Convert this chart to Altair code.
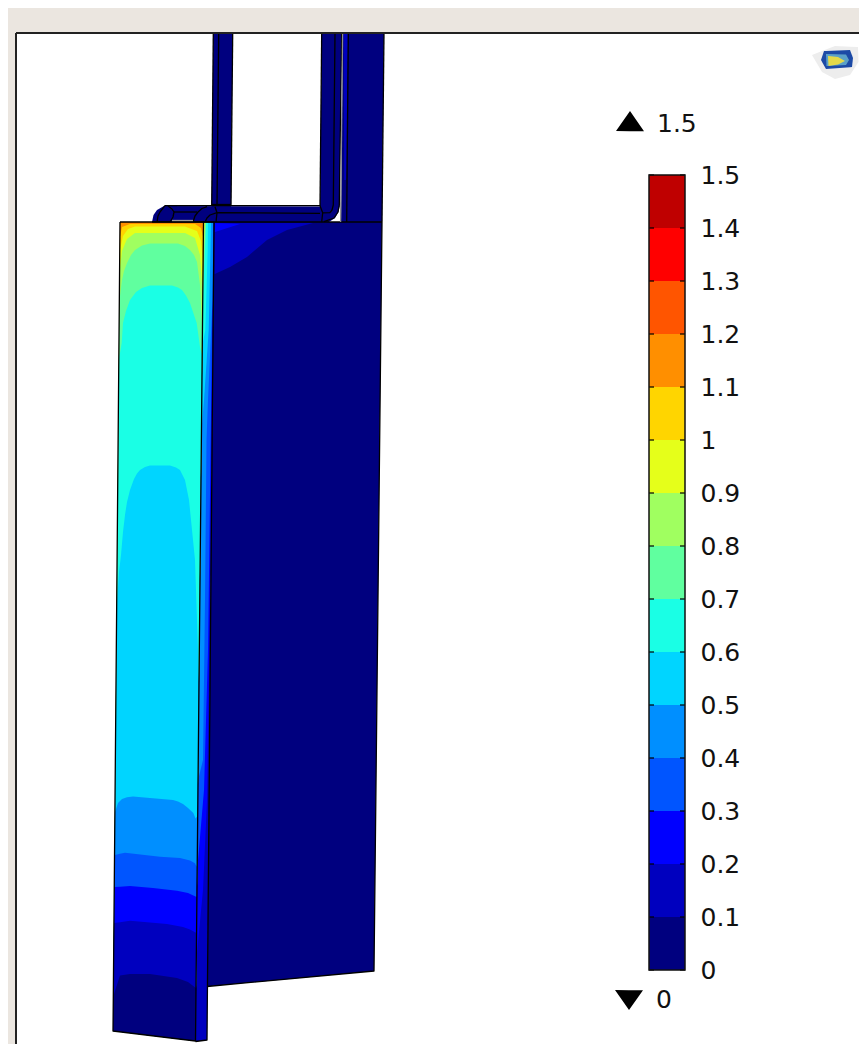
import numpy as np
import pandas as pd
import altair as alt

# Colour levels of the contour plot, lowest to highest
levels = [round(i * 0.1, 1) for i in range(16)]
jet = ["#00007f", "#0000bf", "#0000ff", "#0055ff", "#008fff", "#00d5ff", "#1affe5", "#60ff9f",
       "#a0ff60", "#e5ff1a", "#ffd500", "#ff8f00", "#ff5500", "#ff0000", "#bf0000"]

# Front face, outline in picture coordinates
face = [(120, 222), (203.5, 222), (195.5, 1041), (113, 1031)]
strip = [(203.5, 222), (214, 222), (207, 1040), (195.5, 1041.5)]
panel = [(214, 222), (382, 222), (374, 971), (207, 986.5)]

# Contour curves on the front face, hottest first
face_base = "#ff8f00"
face_curves = [
    ("#ffd500", [(120.3, 236), (122, 227), (130, 224), (195, 224), (201, 228), (203.3, 238)]),
    ("#e5ff1a", [(120, 250), (123, 236), (128, 229), (135, 226.5), (185, 226.5), (197, 231), (201, 241), (202.8, 262)]),
    ("#a0ff60", [(119.6, 272), (122, 251), (127, 239), (135, 233), (185, 233), (195, 238), (200, 255), (202.5, 292)]),
    ("#60ff9f", [(119.5, 300), (122, 280), (124, 271), (127, 263), (131, 255), (135, 250), (142, 245.5), (150, 243.5), (178, 243.5), (185, 246), (190, 250), (194, 255), (197, 262), (200, 285), (202.4, 340)]),
    ("#1affe5", [(119.3, 357), (121.7, 343), (123, 323), (126, 311), (130, 300), (136, 292), (142, 288), (150, 285.5), (172, 285.5), (178, 287.5), (182, 290), (186, 295.5), (190, 303), (196.7, 323), (200, 347), (202.2, 370)]),
    ("#00d5ff", [(117.2, 600), (119, 572), (121, 555), (123, 532), (125, 515), (127, 502), (130, 490), (134, 479), (137, 473.5), (140, 470), (145, 467), (150, 465.5), (170, 465.5), (176, 467.5), (180, 470), (185, 480), (189, 500), (192, 530), (195, 560), (197, 620), (199, 720)]),
    ("#008fff", [(115, 812), (118, 803), (122, 799), (127, 797.2), (133, 796.5), (150, 798), (173, 800), (178, 801.5), (183, 804), (188, 808), (193.3, 813), (197.7, 824)]),
    ("#0055ff", [(115, 855), (125, 852.7), (160, 856.7), (180, 858), (190, 860.5), (195, 863.3), (197.2, 869)]),
    ("#0000ff", [(114.5, 887), (130, 886), (153, 888), (177, 890.7), (188, 893), (196.8, 897)]),
    ("#0000bf", [(114, 923), (130, 920.7), (167, 924), (183, 927), (190, 929.5), (196.4, 933)]),
    ("#00007f", [(113.3, 978), (120, 975.5), (130, 974), (150, 974), (177, 978), (188, 982), (196, 988)]),
]

# Slivers of the narrow side strip
strip_bands = [
    ("#0000bf", strip),
    ("#0000ff", [(196.3, 960), (203.5, 222), (213.9, 222), (208.5, 700), (207, 800), (203, 890)]),
    ("#0055ff", [(197.2, 870), (203.5, 222), (213.5, 222), (208, 650), (204, 790)]),
    ("#008fff", [(198.05, 780), (203.5, 222), (213.2, 222), (212.5, 300), (208, 400), (206.5, 440), (205, 600), (203, 760)]),
    ("#00d5ff", [(201.5, 430), (203.5, 222), (211, 222), (210.5, 250), (208.7, 330), (204, 400)]),
    ("#1affe5", [(202.3, 345), (203.5, 222), (208, 222), (207.7, 250), (205.3, 330)]),
    ("#60ff9f", [(202.7, 300), (203.5, 222), (206.2, 222), (205, 250)]),
    ("#a0ff60", [(203.1, 265), (203.5, 222), (205.5, 222), (204.5, 240)]),
    ("#e5ff1a", [(203.3, 240), (203.5, 222), (204.7, 222)]),
]

# Panel shading and the pipes
navy = "#00007f"
panel_bands = [
    ("#00007f", panel),
    ("#0000bf", [(214.6, 274), (214.8, 223), (313, 223), (287, 230), (267, 240), (247, 257), (230, 267)]),
    ("#0000ff", [(214.8, 232), (215, 223), (240, 224)]),
]
pipes = [
    (navy, [(213.3, 33), (232.7, 33), (231, 207), (211.7, 207)]),
    (navy, [(321.7, 33), (341.7, 33), (339.5, 207), (320, 207)]),
    (navy, [(342.7, 33), (384, 33), (382, 222), (341, 222.5)]),
    ("#0000bf", [(343.7, 33), (348, 33), (346, 180), (344.2, 180)]),
    (navy, [(152, 222), (153.5, 215), (157, 210), (164, 206), (339.5, 206.5), (338.5, 212), (335, 218), (329, 222)]),
]

lines = [
    ("#000000", face + [face[0]]),
    ("#000000", strip),
    ("#000000", [panel[1], panel[2], panel[3]]),
    ("#000000", [(152, 222), (382, 222)]),
    ("#000000", [(213.3, 33), (211.7, 206)]),
    ("#000000", [(218.7, 33), (217, 206)]),
    ("#000000", [(232.7, 33), (231, 206)]),
    ("#000000", [(212, 204.5), (231, 204.5)]),
    ("#000000", [(321.7, 33), (320, 206)]),
    ("#000000", [(335, 33), (333.3, 205), (332, 210), (330, 212.7), (322.7, 212.8)]),
    ("#000000", [(341.7, 33), (339.3, 205), (338, 212), (334, 218), (324, 221.7)]),
    ("#000000", [(348.3, 33), (346.7, 222)]),
    ("#000000", [(384, 33), (382, 222)]),
    ("#000000", [(157, 222), (158, 216), (160, 212), (165, 205.7), (320, 205.7)]),
    ("#000000", [(168, 206), (172, 209), (174, 212), (173, 217), (170, 222)]),
    ("#000000", [(174, 212), (197, 212)]),
    ("#000000", [(193, 222), (195, 216), (198, 212), (202, 208.5), (207, 206.7)]),
    ("#000000", [(205, 222), (207, 218), (210, 215), (217, 212.7), (320, 213.3)]),
    ("#000000", [(215, 206.7), (217, 212.7), (216, 222)]),
    ("#000000", [(320, 205.7), (322.7, 212.7), (321.7, 221.7)]),
    ("#9a9a9a", [(172, 220.5), (193, 220.5)]),
    ("#8c8c8c", [(342.6, 33), (340.6, 222)]),
]

# Legend markers and icon
up_marker = [(616, 131), (630, 111), (644, 131.3)]
down_marker = [(615, 990), (643, 990.3), (629, 1010)]
icon = [
    ("#ededed", [(812, 55), (835, 46), (858, 47), (858.5, 62), (850, 75), (835, 79), (822, 72)]),
    ("#1c4aa6", [(821, 60), (824, 51), (850, 50), (853, 58), (852, 67), (826, 69)]),
    ("#5aa0c8", [(826, 54), (846, 54.5), (849, 60), (846, 65), (826.5, 66)]),
    ("#e3d94a", [(828, 56), (838, 57), (845, 61), (838, 64.5), (828.5, 66)]),
]
top_label = "1.5"
bottom_label = "0"
colors_frame = {"page": "#ebe6e0", "frame": "#222222"}
font = "DejaVu Sans"
fsize = 25


def chains(poly):
    xs = [p[0] for p in poly]
    a, b = int(np.argmin(xs)), int(np.argmax(xs))
    p = poly[a:] + poly[:a]
    k = (b - a) % len(poly)
    ca = p[: k + 1]
    cb = (p[k:] + p[:1])[::-1]
    return ca, cb


def at(chain, x):
    return np.interp(x, [p[0] for p in chain], [p[1] for p in chain])


def poly_rows(poly):
    ca, cb = chains(poly)
    x = np.unique([p[0] for p in poly])
    ya, yb = at(ca, x), at(cb, x)
    return pd.DataFrame({"x": x, "y": np.minimum(ya, yb), "y2": np.maximum(ya, yb)})


def clipped_rows(curve, poly):
    ca, cb = chains(poly)
    x = np.unique([p[0] for p in curve + poly])
    ya, yb = at(ca, x), at(cb, x)
    top, bot = np.minimum(ya, yb), np.maximum(ya, yb)
    y = np.minimum(np.maximum(at(curve, x), top), bot)
    return pd.DataFrame({"x": x, "y": y, "y2": bot})


xs = alt.Scale(domain=[8, 859], nice=False, zero=False)
ys = alt.Scale(domain=[8, 1044], nice=False, zero=False, reverse=True)
X = alt.X("x:Q", scale=xs, axis=None)
Y = alt.Y("y:Q", scale=ys, axis=None)


def area(df, color):
    return alt.Chart(df).mark_area(color=color, strokeWidth=0, orient="vertical", interpolate="linear").encode(
        x=X, y=Y, y2="y2:Q")


def polyline(points, color, width=1.3):
    df = pd.DataFrame(points, columns=["x", "y"]).assign(i=lambda d: range(len(d)))
    return alt.Chart(df).mark_line(color=color, strokeWidth=width, strokeJoin="round", clip=False).encode(
        x=X, y=Y, order="i:Q")


def block(x0, x1, y0, y1, color):
    df = pd.DataFrame({"x": [x0], "x2": [x1], "y": [y0], "y2": [y1]})
    return alt.Chart(df).mark_rect(color=color, strokeWidth=0).encode(x=X, x2="x2:Q", y=Y, y2="y2:Q")


picture = [block(16, 859, 33, 1044, "#ffffff")]
for c, p in pipes:
    picture.append(area(poly_rows(p), c))
for c, p in panel_bands:
    picture.append(area(poly_rows(p), c))
for c, p in strip_bands:
    picture.append(area(poly_rows(p), c))
picture.append(area(poly_rows(face), face_base))
for c, curve in face_curves:
    picture.append(area(clipped_rows(curve, face), c))
for c, p in lines:
    picture.append(polyline(p, c))
for c, p in icon:
    picture.append(area(poly_rows(p), c))
picture.append(area(poly_rows(up_marker), "#000000"))
picture.append(area(poly_rows(down_marker), "#000000"))
picture.append(polyline([(16, 33), (859, 33)], colors_frame["frame"], 2))
picture.append(polyline([(16, 33), (16, 1044)], colors_frame["frame"], 2))

texts = pd.DataFrame({"x": [657, 656], "y": [124, 1000], "t": [top_label, bottom_label]})
picture.append(alt.Chart(texts).mark_text(align="left", baseline="middle", font=font, fontSize=fsize, color="#111111").encode(
    x=X, y=Y, text="t:N"))

# Colour bar through its own level scale
lvl = alt.Scale(domain=[0, 1.5], range=[962, 167], nice=False, zero=False)
bar_df = pd.DataFrame({"lo": levels[:-1], "hi": levels[1:], "c": jet, "a": 649, "b": 685})
bar_axis = alt.Axis(orient="right", offset=-174, values=levels, format=".1~f", domain=False, ticks=False,
                    grid=False, title=None, labelPadding=15, labelFont=font, labelFontSize=fsize,
                    labelColor="#111111", labelOverlap=False, labelFlush=False, zindex=1)
bar = alt.Chart(bar_df).mark_rect(strokeWidth=0).encode(
    x=alt.X("a:Q", scale=xs, axis=None), x2="b:Q",
    y=alt.Y("lo:Q", scale=lvl, axis=bar_axis), y2="hi:Q",
    color=alt.Color("c:N", scale=None))
tick_df = pd.DataFrame({"v": levels})
ticks_l = alt.Chart(tick_df).mark_rule(color="#000000", strokeWidth=1.2).encode(
    x=alt.X(datum=649, scale=xs, axis=None), x2=alt.X2(datum=654),
    y=alt.Y("v:Q", scale=lvl, axis=None))
ticks_r = alt.Chart(tick_df).mark_rule(color="#000000", strokeWidth=1.2).encode(
    x=alt.X(datum=680, scale=xs, axis=None), x2=alt.X2(datum=685),
    y=alt.Y("v:Q", scale=lvl, axis=None))
bar_box = alt.Chart(pd.DataFrame({"a": [649], "b": [685], "lo": [0], "hi": [1.5]})).mark_rect(
    fillOpacity=0, stroke="#111111", strokeWidth=1.5).encode(
    x=alt.X("a:Q", scale=xs, axis=None), x2="b:Q",
    y=alt.Y("lo:Q", scale=lvl, axis=None), y2="hi:Q")

chart = alt.layer(alt.layer(*picture), bar, ticks_l, ticks_r, bar_box).resolve_scale(y="independent").properties(
    width=851, height=1036, background=colors_frame["page"], padding=0,
    autosize=alt.AutoSizeParams(type="none"),
).configure_view(stroke=None)

chart.save("out.html", embed_options={"renderer": "svg", "actions": False})
